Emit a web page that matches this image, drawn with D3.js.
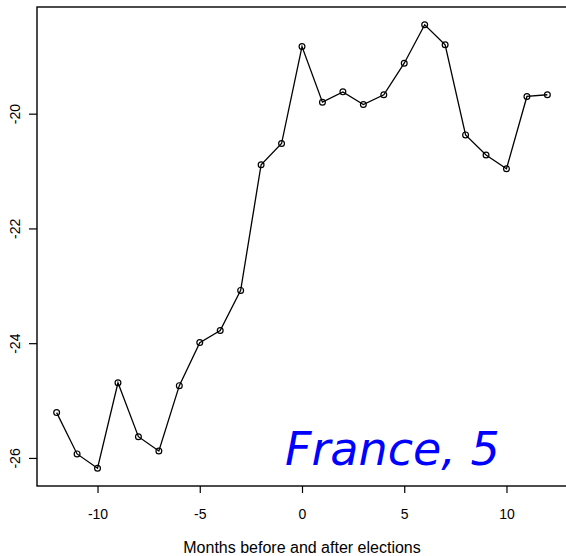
<!DOCTYPE html>
<html>
<head>
<meta charset="utf-8">
<script src="https://cdn.jsdelivr.net/npm/d3@7/dist/d3.min.js"></script>
<style>
  html, body { margin: 0; padding: 0; background: #fff; }
  svg { display: block; }
</style>
</head>
<body>
<svg id="chart" width="566" height="556"></svg>
<script>
// Months relative to the election and the monthly series value
const months = [-12, -11, -10, -9, -8, -7, -6, -5, -4, -3, -2, -1, 0, 1, 2, 3, 4, 5, 6, 7, 8, 9, 10, 11, 12];
const values = [-25.21, -25.93, -26.18, -24.69, -25.63, -25.88, -24.74, -23.99, -23.78, -23.08,
                -20.89, -20.52, -18.83, -19.80, -19.62, -19.84, -19.67, -19.12, -18.45, -18.80,
                -20.37, -20.72, -20.96, -19.70, -19.67];
const xTicks = [-10, -5, 0, 5, 10];
const yTicks = [-26, -24, -22, -20];
const xTitle = "Months before and after elections";
const panelLabel = "France, 5";

const sans = "'Liberation Sans', Arial, sans-serif";
const svg = d3.select("#chart");
const plotLeft = 37, plotTop = 7, plotRight = 567, plotBottom = 486;

// Pad the data range by 4% on each side
function padded(ext) {
  const d = (ext[1] - ext[0]) * 0.04;
  return [ext[0] - d, ext[1] + d];
}
const x = d3.scaleLinear().domain(padded(d3.extent(months))).range([plotLeft, plotRight]);
const y = d3.scaleLinear().domain(padded(d3.extent(values))).range([plotBottom, plotTop]);

const data = months.map((m, i) => ({ m, v: values[i] }));

// Plot frame
svg.append("rect")
  .attr("x", plotLeft).attr("y", plotTop)
  .attr("width", plotRight - plotLeft).attr("height", plotBottom - plotTop)
  .attr("fill", "none").attr("stroke", "#000").attr("stroke-width", 1.4);

// Bottom axis
const xAxis = svg.append("g")
  .attr("transform", `translate(0,${plotBottom})`)
  .call(d3.axisBottom(x).tickValues(xTicks).tickSize(7).tickPadding(16).tickFormat(d3.format("d")));
xAxis.select(".domain").remove();
xAxis.selectAll("line").attr("stroke", "#000").attr("stroke-width", 1.2);
xAxis.selectAll("text")
  .style("font-family", sans).style("font-size", "14px")
  .attr("fill", "#000")
  .text(d => d < 0 ? "-" + Math.abs(d) : d);

// Left axis with rotated labels
const yAxis = svg.append("g")
  .attr("transform", `translate(${plotLeft},0)`)
  .call(d3.axisLeft(y).tickValues(yTicks).tickSize(8).tickFormat(d3.format("d")));
yAxis.select(".domain").remove();
yAxis.selectAll("line").attr("stroke", "#000").attr("stroke-width", 1.2);
yAxis.selectAll("text")
  .style("font-family", sans).style("font-size", "14px")
  .attr("fill", "#000")
  .attr("x", null).attr("dy", null)
  .attr("text-anchor", "middle")
  .attr("transform", "translate(-17,0) rotate(-90)")
  .text(d => "-" + Math.abs(d));

// Series line and hollow point markers
svg.append("path")
  .datum(data)
  .attr("fill", "none").attr("stroke", "#000").attr("stroke-width", 1.3)
  .attr("d", d3.line().x(d => x(d.m)).y(d => y(d.v)));

svg.append("g").selectAll("circle")
  .data(data).join("circle")
  .attr("cx", d => x(d.m)).attr("cy", d => y(d.v)).attr("r", 2.9)
  .attr("fill", "none").attr("stroke", "#000").attr("stroke-width", 1.2);

// Axis title
svg.append("text")
  .attr("x", 302).attr("y", 553)
  .attr("text-anchor", "middle")
  .style("font-family", sans).style("font-size", "16px")
  .attr("fill", "#000").text(xTitle);

// Panel label
svg.append("text")
  .attr("x", 285).attr("y", 465)
  .style("font-family", "'DejaVu Sans', Verdana, sans-serif")
  .style("font-style", "italic").style("font-size", "46px")
  .attr("fill", "#0000ff").text(panelLabel);
</script>
</body>
</html>
